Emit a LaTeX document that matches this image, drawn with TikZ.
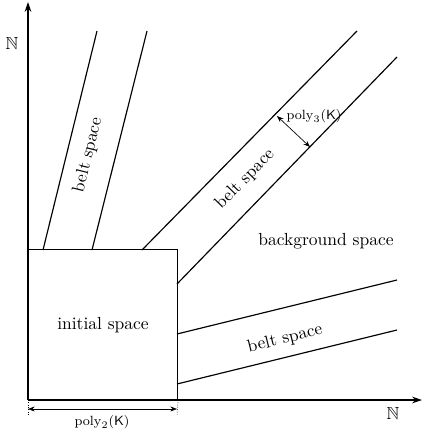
\documentclass[tikz,border=0pt]{standalone}
\usepackage{amssymb}
\usetikzlibrary{arrows.meta}
\begin{document}
\begin{tikzpicture}[x=0.6pt,y=-0.6pt,
  font=\fontsize{10.5}{12}\selectfont,
  ln/.style={line width=0.7pt},
  axis/.style={line width=0.7pt,-{Stealth[length=6pt,width=4pt]}},
  dim/.style={line width=0.4pt,{Stealth[length=4pt,width=3pt]}-{Stealth[length=4pt,width=3pt]}},
  lbl/.style={inner sep=1pt}]
\useasboundingbox (0,0) rectangle (423,434);
% axes
\coordinate (O) at (28,400);
\coordinate (ytop) at (28,2);
\coordinate (xend) at (422,400);
\draw[axis] (O) -- (ytop);
\draw[axis] (O) -- (xend);
\node[lbl] (nY) at (12,43) {$\mathbb{N}$};
\node[lbl] (nX) at (393,413) {$\mathbb{N}$};
% initial box
\node[draw,ln,minimum width=89.4pt,minimum height=90pt,inner sep=0pt,anchor=south west] (init) at (28,400) {};
\node[lbl] (initlbl) at (103,325) {initial space};
% belt 1
\coordinate (a1) at (43,250); \coordinate (a2) at (97,31);
\coordinate (b1) at (92,250); \coordinate (b2) at (147,31);
\draw[ln] (a1) -- (a2);
\draw[ln] (b1) -- (b2);
\node[lbl,rotate=76] (belt1) at (88,155) {belt space};
% belt 2
\coordinate (c1) at (142,250); \coordinate (c2) at (357,31);
\coordinate (d1) at (177,284); \coordinate (d2) at (397,57);
\draw[ln] (c1) -- (c2);
\draw[ln] (d1) -- (d2);
\node[lbl,rotate=45.5] (belt2) at (245,179) {belt space};
% belt 3
\coordinate (e1) at (177,334); \coordinate (e2) at (397,280);
\coordinate (f1) at (177,384); \coordinate (f2) at (397,330);
\draw[ln] (e1) -- (e2);
\draw[ln] (f1) -- (f2);
\node[lbl,rotate=13.8] (belt3) at (285,339) {belt space};
\node[lbl] (bg) at (326,241) {background space};
% poly3 dimension
\coordinate (p3a) at (277,116);
\coordinate (p3b) at (310,147);
\draw[dim] (p3a) -- (p3b);
\node[lbl,font=\footnotesize] (poly3) at (314,116) {$\mathrm{poly}_3(\mathsf{K})$};
% poly2 dimension
\coordinate (q1) at (28,416); \coordinate (q2) at (177,416);
\draw[densely dotted,line width=0.4pt] (init.south west) -- (q1);
\draw[densely dotted,line width=0.4pt] (init.south east) -- (q2);
\coordinate (r1) at (28,409); \coordinate (r2) at (177,409);
\draw[dim] (r1) -- (r2);
\node[lbl,font=\footnotesize] (poly2) at (102,422) {$\mathrm{poly}_2(\mathsf{K})$};
\end{tikzpicture}
\end{document}
